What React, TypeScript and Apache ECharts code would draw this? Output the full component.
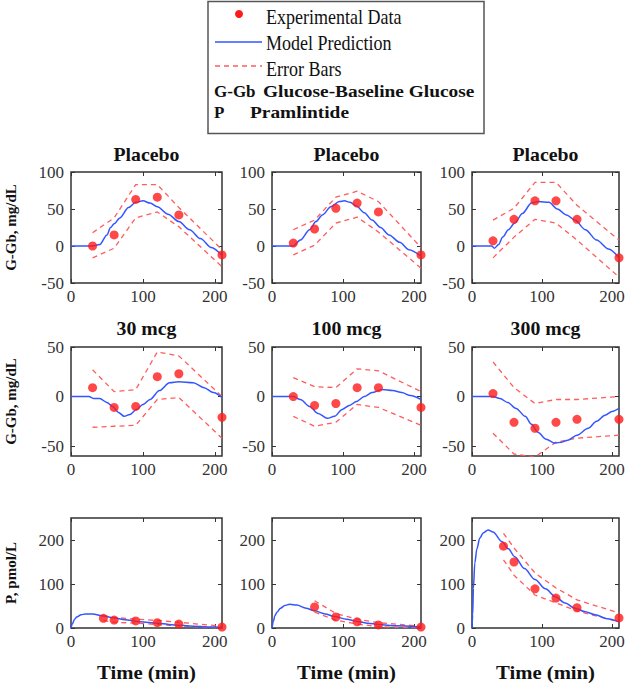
import React, { useEffect, useRef } from "react";
import * as echarts from "echarts";

// ---------- DATA ----------
const TIMES = [30, 60, 90, 120, 150, 210];
const TIMES_P = [45, 60, 90, 120, 150, 210];
const TIMES_P2 = [60, 90, 120, 150, 210];

const TITLES = ["Placebo", "Placebo", "Placebo", "30 mcg", "100 mcg", "300 mcg", "", "", ""];
const X_TICKS = [0, 100, 200];
const Y_TICKS_ROW1 = [-50, 0, 50, 100];
const Y_TICKS_ROW2 = [-50, 0, 50];
const Y_TICKS_ROW3 = [0, 100, 200];
const Y_RANGE_ROW1 = [-50, 100];
const Y_RANGE_ROW2 = [-60, 50];
const Y_RANGE_ROW3 = [0, 250];
const X_RANGE = [0, 210];
const Y_NAMES = ["G-Gb, mg/dL", "G-Gb, mg/dL", "P, pmol/L"];
const X_NAME = "Time (min)";

// Panel 1 - Placebo
const P1_DOTS = [0, 15, 63, 66, 42, -12];
const P1_UP = [18, 38, 83, 83, 52, -5];
const P1_LO = [-16, -3, 38, 46, 26, -28];
const P1_MODEL = [[0, 0], [30, 0], [40, 2], [50, 15], [55, 25], [60, 30], [68, 38], [80, 52], [90, 59], [100, 61], [110, 58], [120, 53], [135, 43], [150, 33], [165, 22], [180, 10], [195, -2], [210, -13]];
// Panel 2 - Placebo
const P2_DOTS = [4, 23, 51, 58, 46, -12];
const P2_UP = [22, 35, 66, 74, 60, -2];
const P2_LO = [-12, 1, 31, 39, 19, -30];
const P2_MODEL = [[0, 0], [30, 0], [40, 8], [53, 22], [62, 33], [71, 42], [83, 53], [95, 60], [102, 61], [110, 59], [119, 54], [130, 45], [141, 35], [153, 25], [165, 15], [180, 5], [193, -5], [210, -14]];
// Panel 3 - Placebo
const P3_DOTS = [7, 36, 61, 61, 36, -16];
const P3_UP = [35, 51, 86, 86, 55, 8];
const P3_LO = [-16, 12, 36, 31, 8, -42];
const P3_MODEL = [[0, 0], [28, 0], [32, -3], [38, 2], [44, 12], [52, 22], [61, 31], [72, 44], [85, 58], [95, 60], [110, 59], [122, 50], [135, 42], [147, 35], [162, 22], [178, 8], [195, -4], [210, -16]];
// Panel 4 - 30 mcg
const P4_DOTS = [9, -11, -10, 20, 23, -21];
const P4_UP = [27, 5, 7, 45, 41, 0];
const P4_LO = [-31, -30, -29, -3, -1, -42];
const P4_MODEL = [[0, 0], [25, 0], [32, -2], [40, -2], [50, -6], [58, -10], [66, -16], [74, -20], [82, -18], [91, -13], [100, -8], [110, -3], [123, 6], [137, 14], [150, 15], [170, 14], [185, 9], [198, 4], [210, -1]];
// Panel 5 - 100 mcg
const P5_DOTS = [0, -9, -7, 9, 9, -11];
const P5_UP = [19, 10, 9, 28, 26, 5];
const P5_LO = [-20, -30, -26, -8, -11, -29];
const P5_MODEL = [[0, 0], [30, 0], [40, -3], [53, -10], [65, -17], [78, -22], [88, -20], [99, -13], [109, -9], [119, -5], [130, 0], [141, 4], [155, 7], [170, 6], [183, 4], [195, 1], [210, -3]];
// Panel 6 - 300 mcg
const P6_DOTS = [3, -26, -32, -26, -23, -23];
const P6_UP = [35, 9, -7, -3, -3, 0];
const P6_LO = [-37, -58, -61, -46, -42, -39];
const P6_MODEL = [[0, 0], [30, 0], [40, -2], [51, -6], [63, -12], [76, -20], [85, -28], [94, -36], [106, -43], [118, -47], [128, -46], [137, -44], [150, -39], [166, -32], [178, -25], [190, -19], [200, -15], [210, -12]];
// Panel 7 - pramlintide 30 mcg
const P7_DOTS = [22, 18, 16, 12, 9, 2];
const P7_UP = [28, 24, 20, 17, 13, 4];
const P7_LO = [17, 13, 11, 8, 5, 0];
const P7_MODEL = [[0, 0], [2, 10], [5, 20], [8, 25], [14, 30], [20, 32], [30, 32], [45, 27], [60, 23], [75, 19], [96, 14], [120, 11], [144, 7], [170, 4], [200, 2], [210, 1]];
// Panel 8 - pramlintide 100 mcg
const P8_DOTS = [48, 25, 14, 7, 2];
const P8_UP = [62, 33, 20, 12, 4];
const P8_LO = [36, 18, 9, 3, 0];
const P8_MODEL = [[0, 0], [2, 15], [4, 28], [7, 36], [12, 45], [18, 51], [25, 54], [35, 52], [48, 45], [60, 39], [75, 32], [88, 26], [105, 20], [120, 15], [135, 11], [150, 8], [175, 5], [210, 2]];
// Panel 9 - pramlintide 300 mcg
const P9_DOTS = [186, 150, 89, 68, 46, 23];
const P9_UP = [215, 182, 125, 91, 64, 34];
const P9_LO = [155, 120, 75, 57, 39, 14];
const P9_MODEL = [[0, 0], [1, 30], [2, 90], [4, 148], [7, 180], [11, 204], [16, 216], [23, 223], [30, 218], [43, 196], [52, 180], [61, 162], [75, 135], [90, 110], [105, 89], [119, 71], [133, 57], [147, 45], [162, 37], [176, 30], [193, 21], [210, 14]];

const LEGEND_LABELS = ["Experimental Data", "Model Prediction", "Error Bars"];
const ABBR = [["G-Gb", "Glucose-Baseline Glucose"], ["P", "Pramlintide"]];

// ---------- LAYOUT ----------
const COL_LEFT = [71, 272, 472];
const COL_WIDTH = [151, 149, 147];
const ROW_TOP = [172, 347, 518];
const ROW_HEIGHT = [111, 109, 110];
const TITLE_Y = [155, 329];

const SERIF = '"Liberation Serif", "Times New Roman", serif';
const RED = "#ff1a1a";
const RED_DASH = "#ff5c5c";
const BLUE = "#3355ff";

const PANELS = [
  { t: TIMES, dots: P1_DOTS, up: P1_UP, lo: P1_LO, model: P1_MODEL },
  { t: TIMES, dots: P2_DOTS, up: P2_UP, lo: P2_LO, model: P2_MODEL },
  { t: TIMES, dots: P3_DOTS, up: P3_UP, lo: P3_LO, model: P3_MODEL },
  { t: TIMES, dots: P4_DOTS, up: P4_UP, lo: P4_LO, model: P4_MODEL },
  { t: TIMES, dots: P5_DOTS, up: P5_UP, lo: P5_LO, model: P5_MODEL },
  { t: TIMES, dots: P6_DOTS, up: P6_UP, lo: P6_LO, model: P6_MODEL },
  { t: TIMES_P, dots: P7_DOTS, up: P7_UP, lo: P7_LO, model: P7_MODEL },
  { t: TIMES_P2, dots: P8_DOTS, up: P8_UP, lo: P8_LO, model: P8_MODEL },
  { t: TIMES_P, dots: P9_DOTS, up: P9_UP, lo: P9_LO, model: P9_MODEL },
];

const ROW_Y = [
  { range: Y_RANGE_ROW1, ticks: Y_TICKS_ROW1 },
  { range: Y_RANGE_ROW2, ticks: Y_TICKS_ROW2 },
  { range: Y_RANGE_ROW3, ticks: Y_TICKS_ROW3 },
];

const zip = (t: number[], v: number[]) => t.map((x, i) => [x, v[i]]);

function buildOption() {
  const grid: any[] = [];
  const xAxis: any[] = [];
  const yAxis: any[] = [];
  const series: any[] = [];
  const graphic: any[] = [];

  PANELS.forEach((p, i) => {
    const r = Math.floor(i / 3);
    const c = i % 3;
    grid.push({
      left: COL_LEFT[c],
      top: ROW_TOP[r],
      width: COL_WIDTH[c],
      height: ROW_HEIGHT[r],
      containLabel: false,
      outerBoundsMode: "none",
      show: true,
      borderColor: "#333",
      borderWidth: 1.5,
      backgroundColor: "transparent",
    });
    const tickStyle = { lineStyle: { color: "#333", width: 1 } };
    const noLine = { show: false, onZero: false };
    xAxis.push({
      type: "value",
      gridIndex: i,
      min: X_RANGE[0],
      max: X_RANGE[1],
      position: "bottom",
      axisLine: noLine,
      splitLine: { show: false },
      axisTick: { show: true, inside: true, length: 4, customValues: X_TICKS, ...tickStyle },
      axisLabel: {
        customValues: X_TICKS,
        fontFamily: SERIF,
        fontSize: 17,
        color: "#333",
        margin: 5,
      },
    });
    xAxis.push({
      type: "value",
      gridIndex: i,
      min: X_RANGE[0],
      max: X_RANGE[1],
      position: "top",
      axisLine: noLine,
      splitLine: { show: false },
      axisTick: { show: true, inside: true, length: 4, customValues: X_TICKS, ...tickStyle },
      axisLabel: { show: false },
    });
    const ry = ROW_Y[r];
    yAxis.push({
      type: "value",
      gridIndex: i,
      min: ry.range[0],
      max: ry.range[1],
      position: "left",
      axisLine: noLine,
      splitLine: { show: false },
      axisTick: { show: true, inside: true, length: 4, customValues: ry.ticks, ...tickStyle },
      axisLabel: {
        customValues: ry.ticks,
        fontFamily: SERIF,
        fontSize: 17,
        color: "#333",
        margin: 7,
      },
      name: c === 0 ? Y_NAMES[r] : "",
      nameLocation: "middle",
      nameGap: 53,
      nameRotate: 90,
      nameTextStyle: { fontFamily: SERIF, fontWeight: "bold", fontSize: 15, color: "#111" },
    });
    yAxis.push({
      type: "value",
      gridIndex: i,
      min: ry.range[0],
      max: ry.range[1],
      position: "right",
      axisLine: noLine,
      splitLine: { show: false },
      axisTick: { show: true, inside: true, length: 4, customValues: ry.ticks, ...tickStyle },
      axisLabel: { show: false },
    });

    const xi = 2 * i;
    const yi = 2 * i;
    const dash = {
      type: "line",
      xAxisIndex: xi,
      yAxisIndex: yi,
      showSymbol: false,
      symbol: "none",
      lineStyle: { color: RED_DASH, width: 1.3, type: [5, 4] },
      z: 2,
      silent: true,
    };
    series.push({ ...dash, name: "Error Bars", data: zip(p.t, p.up) });
    series.push({ ...dash, name: "Error Bars", data: zip(p.t, p.lo) });
    series.push({
      type: "line",
      name: "Model Prediction",
      xAxisIndex: xi,
      yAxisIndex: yi,
      data: p.model,
      showSymbol: false,
      symbol: "none",
      smooth: 0.3,
      smoothMonotone: "x",
      lineStyle: { color: BLUE, width: 1.5 },
      z: 3,
      silent: true,
    });
    series.push({
      type: "scatter",
      name: "Experimental Data",
      xAxisIndex: xi,
      yAxisIndex: yi,
      data: zip(p.t, p.dots),
      symbolSize: 9,
      itemStyle: { color: RED },
      z: 4,
      silent: true,
    });

    if (TITLES[i]) {
      graphic.push({
        type: "text",
        x: COL_LEFT[c] + COL_WIDTH[c] / 2,
        y: TITLE_Y[r],
        scaleX: 1.1,
        style: {
          text: TITLES[i],
          font: `bold 18px ${SERIF}`,
          fill: "#111",
          textAlign: "center",
          textVerticalAlign: "middle",
        },
      });
    }
    if (r === 2) {
      graphic.push({
        type: "text",
        x: COL_LEFT[c] + COL_WIDTH[c] / 2,
        y: 673,
        scaleX: 1.15,
        style: {
          text: X_NAME,
          font: `bold 18px ${SERIF}`,
          fill: "#111",
          textAlign: "center",
          textVerticalAlign: "middle",
        },
      });
    }
  });

  // Legend box
  graphic.push({
    type: "rect",
    shape: { x: 208, y: 1.5, width: 276, height: 132 },
    style: { fill: "#fff", stroke: "#555", lineWidth: 1.5 },
    z: 10,
  });
  graphic.push({
    type: "circle",
    shape: { cx: 239, cy: 14, r: 4 },
    style: { fill: RED },
    z: 11,
  });
  graphic.push({
    type: "line",
    shape: { x1: 215, y1: 42, x2: 262, y2: 42 },
    style: { stroke: BLUE, lineWidth: 1.5 },
    z: 11,
  });
  graphic.push({
    type: "line",
    shape: { x1: 215, y1: 66, x2: 262, y2: 66 },
    style: { stroke: RED_DASH, lineWidth: 1.3, lineDash: [5, 4] },
    z: 11,
  });
  const legY = [17, 43, 69];
  LEGEND_LABELS.forEach((txt, k) => {
    graphic.push({
      type: "text",
      x: 266,
      y: legY[k],
      scaleX: 0.9,
      style: {
        text: txt,
        font: `20px ${SERIF}`,
        fill: "#111",
        textAlign: "left",
        textVerticalAlign: "middle",
      },
      z: 11,
    });
  });
  const abbrY = [91, 112];
  const abbrX = [263, 250];
  ABBR.forEach((pair, k) => {
    graphic.push({
      type: "text",
      x: 214,
      y: abbrY[k],
      style: {
        text: pair[0],
        font: `bold 17px ${SERIF}`,
        fill: "#111",
        textAlign: "left",
        textVerticalAlign: "middle",
      },
      z: 11,
    });
    graphic.push({
      type: "text",
      x: abbrX[k],
      y: abbrY[k],
      scaleX: 1.14,
      style: {
        text: pair[1],
        font: `bold 17px ${SERIF}`,
        fill: "#111",
        textAlign: "left",
        textVerticalAlign: "middle",
      },
      z: 11,
    });
  });

  return {
    animation: false,
    backgroundColor: "#fff",
    grid,
    xAxis,
    yAxis,
    series,
    graphic,
  };
}

export default function App() {
  const ref = useRef<HTMLDivElement>(null);
  useEffect(() => {
    document.body.style.margin = "0";
    if (!ref.current) return;
    const chart = echarts.init(ref.current, null, { renderer: "svg" });
    chart.setOption(buildOption() as any);
    return () => chart.dispose();
  }, []);
  return <div ref={ref} style={{ width: 628, height: 685 }} />;
}
